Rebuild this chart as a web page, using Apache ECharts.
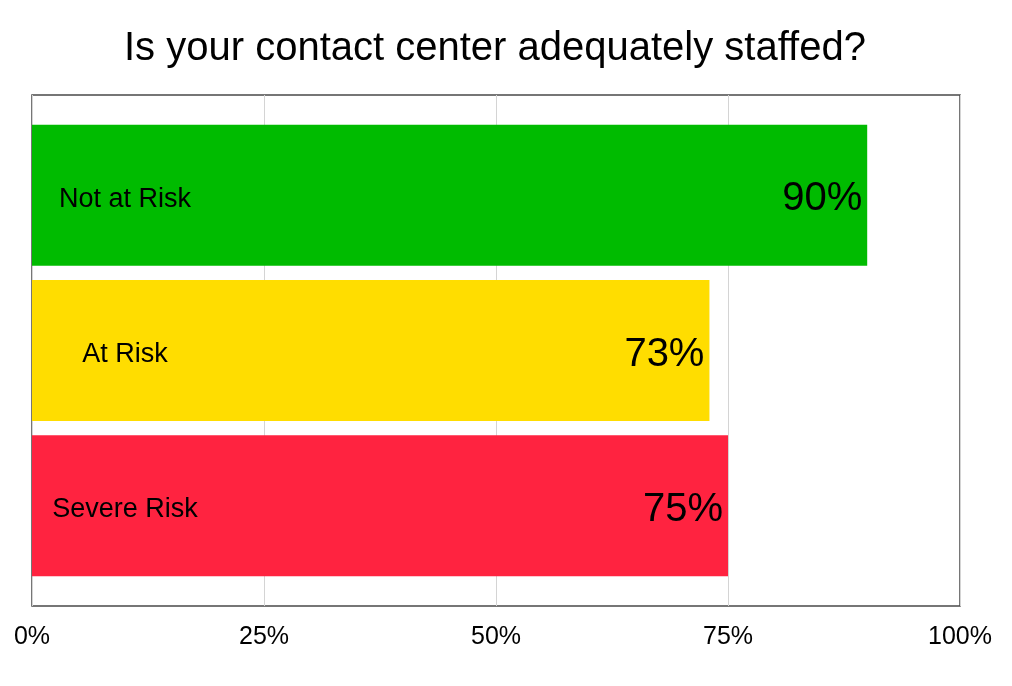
<!DOCTYPE html>
<html>
<head>
<meta charset="utf-8">
<script src="https://cdn.jsdelivr.net/npm/echarts@6/dist/echarts.min.js"></script>
<style>
html,body{margin:0;padding:0;background:#fff;}
#chart{width:1012px;height:686px;}
</style>
</head>
<body>
<div id="chart"></div>
<script>
const titleText = 'Is your contact center adequately staffed?';
const categories = ['Not at Risk', 'At Risk', 'Severe Risk'];
const values = [90, 73, 75];
const colors = ['#00bb00', '#ffdd00', '#ff2340'];
const tickValues = [0, 25, 50, 75, 100];

const FONT = '"Liberation Sans", Arial, Helvetica, sans-serif';
const chart = echarts.init(document.getElementById('chart'));

const option = {
  backgroundColor: '#ffffff',
  animation: false,
  title: {
    text: titleText,
    left: 119,
    top: 24,
    textStyle: { fontFamily: FONT, fontSize: 40, fontWeight: 'normal', color: '#000' }
  },
  grid: [
    { left: 32, right: 52, top: 95, bottom: 80, show: true, borderColor: '#4a4a4a', borderWidth: 1.5, backgroundColor: 'transparent' },
    { left: 32, right: 52, top: 117.5, bottom: 102.5 }
  ],
  xAxis: [
    {
      gridIndex: 0, type: 'value', min: tickValues[0], max: tickValues[tickValues.length - 1], interval: 25,
      axisLine: { show: false }, axisTick: { show: false },
      splitLine: { show: true, lineStyle: { color: '#d4d4d4', width: 1 } },
      axisLabel: { formatter: '{value}%', fontFamily: FONT, fontSize: 25, color: '#000', margin: 19 }
    },
    { gridIndex: 1, type: 'value', min: 0, max: 100, show: false }
  ],
  yAxis: [
    { gridIndex: 0, type: 'value', show: false, splitLine: { show: false } },
    { gridIndex: 1, type: 'category', data: categories, inverse: true, show: false }
  ],
  series: [
    {
      type: 'bar', xAxisIndex: 1, yAxisIndex: 1, barWidth: 141,
      data: values.map((v, i) => ({ value: v, itemStyle: { color: colors[i] } })),
      label: {
        show: true, position: [93, '50%'], align: 'center', verticalAlign: 'middle',
        offset: [0, 4],
        formatter: p => categories[p.dataIndex],
        fontFamily: FONT, fontSize: 27, color: '#000'
      }
    },
    {
      type: 'bar', xAxisIndex: 1, yAxisIndex: 1, barWidth: 141, barGap: '-100%',
      data: values,
      itemStyle: { color: 'rgba(0,0,0,0)' },
      label: {
        show: true, position: 'insideRight', distance: 5, offset: [0, 4],
        formatter: '{c}%', fontFamily: FONT, fontSize: 40, color: '#000'
      }
    }
  ]
};
chart.setOption(option);
</script>
</body>
</html>
